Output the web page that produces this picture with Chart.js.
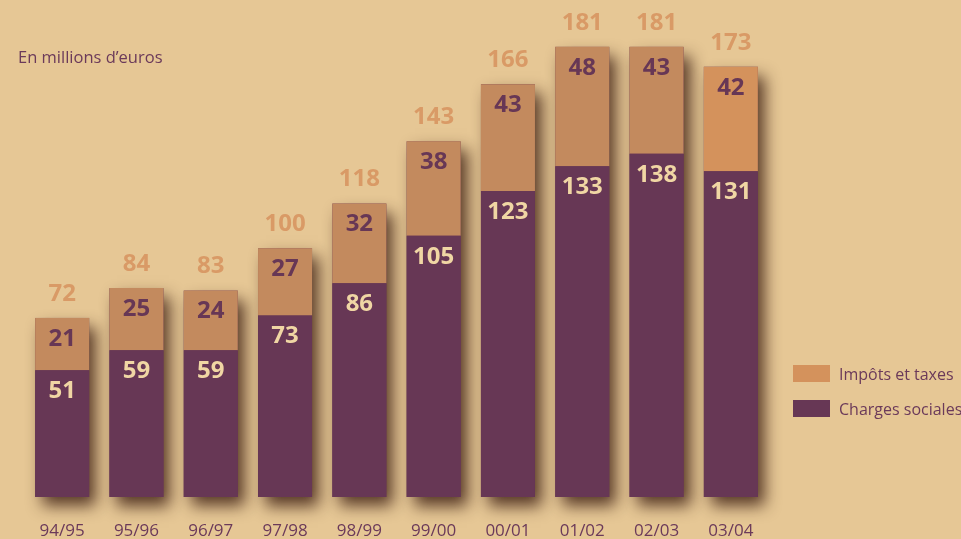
<!DOCTYPE html>
<html>
<head>
<meta charset="utf-8">
<script src="https://cdn.jsdelivr.net/npm/chart.js@4"></script>
<style>
  html, body { margin: 0; padding: 0; background: #e6c795; overflow: hidden; }
  #wrap { position: relative; width: 961px; height: 539px; overflow: hidden; }
  #graf { position: absolute; left: 0; top: 0; }
  #titre { position: absolute; left: 18px; top: 45px; font: 16.5px "Open Sans", sans-serif; color: #6b3a5a; }
  .leg { position: absolute; left: 793px; font: 16px "Open Sans", sans-serif; color: #6b3a5a; white-space: nowrap; }
  .leg span { display: inline-block; width: 37px; height: 17px; margin-right: 9px; vertical-align: -2px; }
</style>
</head>
<body>
<div id="wrap">
  <canvas id="graf" width="961" height="539"></canvas>
  <div id="titre">En millions d’euros</div>
  <div class="leg" style="top:363px"><span style="background:#d4925c"></span>Impôts et taxes</div>
  <div class="leg" style="top:398px"><span style="background:#673755"></span>Charges sociales</div>
</div>
<script>
const categories = ['94/95', '95/96', '96/97', '97/98', '98/99', '99/00', '00/01', '01/02', '02/03', '03/04'];
const chargesSociales = [51, 59, 59, 73, 86, 105, 123, 133, 138, 131];
const impotsTaxes = [21, 25, 24, 27, 32, 38, 43, 48, 43, 42];
const totaux = [72, 84, 83, 100, 118, 143, 166, 181, 181, 173];

// la dernière année en orange plus clair
const couleursImpots = categories.map((c, i) => i === categories.length - 1 ? '#d4925c' : '#c38a5e');

const ombres = {
  id: 'ombres',
  beforeDatasetsDraw(chart) {
    const ctx = chart.ctx;
    const bas = chart.getDatasetMeta(0).data;
    const haut = chart.getDatasetMeta(1).data;
    ctx.save();
    ctx.shadowColor = 'rgba(70, 40, 25, 0.9)';
    ctx.shadowBlur = 15;
    ctx.shadowOffsetX = 7;
    ctx.shadowOffsetY = 9;
    ctx.fillStyle = '#673755';
    haut.forEach((el, i) => {
      const w = el.width;
      ctx.fillRect(el.x - w / 2, el.y, w, bas[i].base - el.y);
    });
    ctx.restore();
  }
};

const etiquettes = {
  id: 'etiquettes',
  afterDatasetsDraw(chart) {
    const ctx = chart.ctx;
    const bas = chart.getDatasetMeta(0).data;
    const haut = chart.getDatasetMeta(1).data;
    ctx.save();
    ctx.textAlign = 'center';
    ctx.textBaseline = 'middle';
    ctx.font = 'bold 24px "Open Sans", sans-serif';
    bas.forEach((el, i) => {
      ctx.fillStyle = '#f0d6a4';
      ctx.fillText(chargesSociales[i], el.x, el.y + 21);
      ctx.fillStyle = '#673755';
      ctx.fillText(impotsTaxes[i], haut[i].x, haut[i].y + 21);
      ctx.fillStyle = '#d99a66';
      ctx.fillText(totaux[i], haut[i].x, haut[i].y - 24);
    });
    ctx.restore();
  }
};

new Chart(document.getElementById('graf'), {
  type: 'bar',
  data: {
    labels: categories,
    datasets: [{
      label: 'Charges sociales',
      data: chargesSociales,
      backgroundColor: '#673755',
      barPercentage: 0.727,
      categoryPercentage: 1
    }, {
      label: 'Impôts et taxes',
      data: impotsTaxes,
      backgroundColor: couleursImpots,
      barPercentage: 0.727,
      categoryPercentage: 1
    }]
  },
  options: {
    responsive: false,
    animation: false,
    layout: { padding: { left: 25, right: 193, top: 22, bottom: 0 } },
    scales: {
      x: {
        stacked: true,
        // grille cachée, mais tickLength sert à pousser les libellés vers le bas
        grid: { display: false, drawTicks: true, tickLength: 26.4 },
        border: { display: false },
        ticks: {
          color: '#6b3a5a',
          font: { family: 'Open Sans', size: 17 },
          padding: -2.4,
          maxRotation: 0
        }
      },
      y: {
        stacked: true,
        display: false,
        min: 0,
        max: 191
      }
    },
    plugins: {
      legend: { display: false },
      tooltip: { enabled: false }
    }
  },
  plugins: [ombres, etiquettes]
});
</script>
</body>
</html>
